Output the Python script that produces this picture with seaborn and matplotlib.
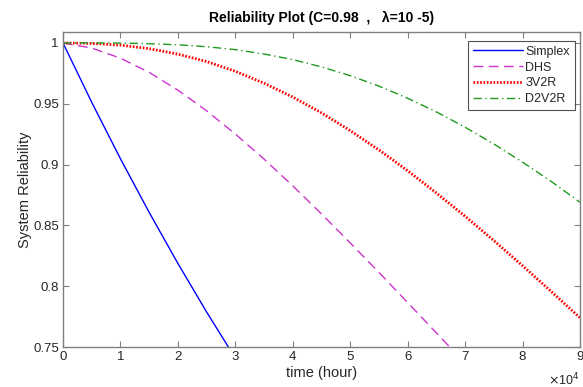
import matplotlib
matplotlib.use("Agg")
import matplotlib.pyplot as plt
import seaborn as sns

# =============================================================================
# Data (time in hours, reliability)
# =============================================================================
TIME = [0, 5000, 10000, 15000, 20000, 25000, 30000, 35000, 40000, 45000,
        50000, 55000, 60000, 65000, 70000, 75000, 80000, 85000, 90000]

SIMPLEX = [1.0, 0.9512, 0.9048, 0.8607, 0.8187, 0.7788, 0.7408]
DHS = [1.0, 0.9958, 0.9875, 0.9758, 0.9612, 0.9442, 0.9251, 0.9045,
       0.8825, 0.8594, 0.8356, 0.8113, 0.7865, 0.7616, 0.7366]
V3V2R = [1.0, 0.9996, 0.9982, 0.9953, 0.9908, 0.9847, 0.9767, 0.9669,
         0.9555, 0.9425, 0.9279, 0.9120, 0.8949, 0.8766, 0.8575, 0.8375,
         0.8168, 0.7956, 0.7740]
D2V2R = [1.0, 1.0, 0.9999, 0.9994, 0.9985, 0.9969, 0.9945, 0.9909,
         0.9863, 0.9803, 0.9731, 0.9645, 0.9545, 0.9433, 0.9307, 0.9169,
         0.9020, 0.8861, 0.8690]

X_TICKS = list(range(0, 100000, 10000))
X_TICK_LABELS = [str(i) for i in range(10)]
Y_TICKS = [0.75, 0.8, 0.85, 0.9, 0.95, 1.0]
Y_TICK_LABELS = ["0.75", "0.8", "0.85", "0.9", "0.95", "1"]

# =============================================================================
# Style
# =============================================================================
sns.set_style("white")
plt.rcParams["font.family"] = ["Liberation Sans", "DejaVu Sans"]

AXIS_GRAY = "#7f7f7f"
TEXT_GRAY = "#262626"

fig = plt.figure(figsize=(5.83, 3.87), dpi=100)
ax = fig.add_axes([63 / 583, 1 - 347 / 387, (580 - 63) / 583, (347 - 32) / 387])

sns.lineplot(x=TIME[:len(SIMPLEX)], y=SIMPLEX, ax=ax, color="#0000ff",
             linewidth=1.0, label="Simplex")
sns.lineplot(x=TIME[:len(DHS)], y=DHS, ax=ax, color="#cc33cc",
             linewidth=1.0, linestyle=(0, (7, 4)), label="DHS")
sns.lineplot(x=TIME, y=V3V2R, ax=ax, color="#ff0000",
             linewidth=2.0, linestyle=(0, (0.6, 0.6)), label="3V2R")
sns.lineplot(x=TIME, y=D2V2R, ax=ax, color="#1f9a1f",
             linewidth=1.0, linestyle=(0, (6, 2.5, 1, 2.5)), label="D2V2R")

ax.set_xlim(0, 90000)
ax.set_ylim(0.75, 1.009)

ax.set_xticks(X_TICKS)
ax.set_xticklabels(X_TICK_LABELS)
ax.set_yticks(Y_TICKS)
ax.set_yticklabels(Y_TICK_LABELS)

ax.tick_params(direction="in", length=4, width=0.8, colors=AXIS_GRAY,
               labelcolor=TEXT_GRAY, labelsize=9.5, top=True, right=True,
               bottom=True, left=True, pad=3)
for spine in ax.spines.values():
    spine.set_color(AXIS_GRAY)
    spine.set_linewidth(1.0)

ax.set_xlabel("time (hour)", fontsize=10.5, color=TEXT_GRAY, labelpad=2)
ax.set_ylabel("System Reliability", fontsize=10.5, color=TEXT_GRAY, labelpad=1)
ax.set_title("Reliability Plot (C=0.98  ,   λ=10 -5)", fontsize=10,
             fontweight="bold", color="#000000", pad=7)

fig.text(548 / 583, 1 - 380 / 387, r"$\times$10$^{4}$", fontsize=9,
         color=TEXT_GRAY, va="center", ha="left")

leg = ax.legend(loc="upper right", bbox_to_anchor=(0.995, 0.98), fontsize=9,
                frameon=True, fancybox=False, borderpad=0.4,
                labelspacing=0.3, handlelength=4.0, handletextpad=0.2,
                borderaxespad=0.2)
leg.get_frame().set_edgecolor(TEXT_GRAY)
leg.get_frame().set_linewidth(0.8)

fig.savefig("out.png", dpi=100)
